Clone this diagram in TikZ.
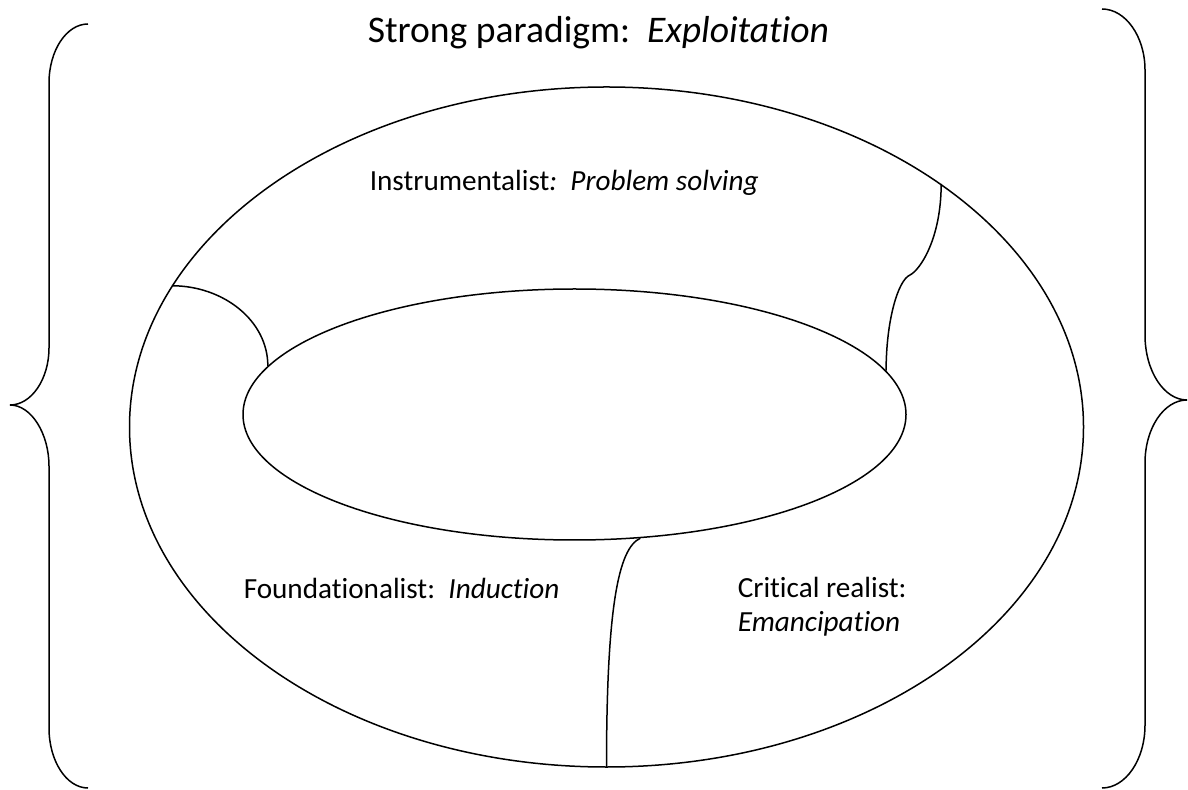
\documentclass[tikz,border=0pt]{standalone}
\usepackage{fontspec}
\setmainfont{Carlito}[Ligatures=NoCommon]
\usetikzlibrary{shapes.geometric,positioning}

\begin{document}
\begin{tikzpicture}
[x=0.5pt,y=-0.5pt,line width=0.75pt]
\tikzstyle{ring}=[draw,ellipse,inner sep=0pt,line width=0.75pt]
\tikzstyle{word}=[inner sep=0pt,anchor=base west,font=\fontsize{14.6}{17}\selectfont]
\tikzstyle{head}=[inner sep=0pt,anchor=base west,font=\fontsize{18.8}{22}\selectfont]

\useasboundingbox (0,0) rectangle (1188,790);

\draw node [ring,minimum width=477pt,minimum height=340pt] (outer) at (606.5,427) {};
\draw node [ring,minimum width=331.5pt,minimum height=125.5pt] (inner) at (574.5,414.5) {};

\draw node [head] (strong) at (367,43) {Strong paradigm:\ \ \textit{Exploitation}};
\draw node [word] (instr) at (369,191) {Instrumentalist\textit{:\ \ Problem solving}};
\draw node [word] (found) at (243,598) {Foundationalist:\ \ \textit{Induction}};
\draw node [word] (crit) at (737,597) {Critical realist:};
\draw node [word] (eman) at (737,631) {\textit{Emancipation}};

\coordinate (kink) at (910,275);

% borders between the four views
\draw (outer.162.2) .. controls +(52,0) and +(0,-45) .. (inner.171.5);
\draw (outer.36.2) .. controls +(0,55) and +(10,-5) .. (kink)
      .. controls +(-12,5) and +(0,-50) .. (inner.8.5);
\draw (inner.298.8) .. controls +(-22,10) and +(0,-160) .. (outer.270.6);

% left brace
\draw (88,24) .. controls (66.5,24) and (49,50.5) .. (49,83) -- (49,348)
      .. controls (49,379) and (31.5,405) .. (10,405)
      .. controls (31.5,405) and (49,434) .. (49,466) -- (49,728)
      .. controls (49,761) and (66.5,788) .. (88,788);
% right brace
\draw (1102,9) .. controls (1125.5,9) and (1145,36.5) .. (1145,70) -- (1145,335)
      .. controls (1145,371) and (1164,400) .. (1187,400)
      .. controls (1164,400) and (1145,428) .. (1145,463) -- (1145,725)
      .. controls (1145,760) and (1125.5,788) .. (1102,788);

\end{tikzpicture}
\end{document}
